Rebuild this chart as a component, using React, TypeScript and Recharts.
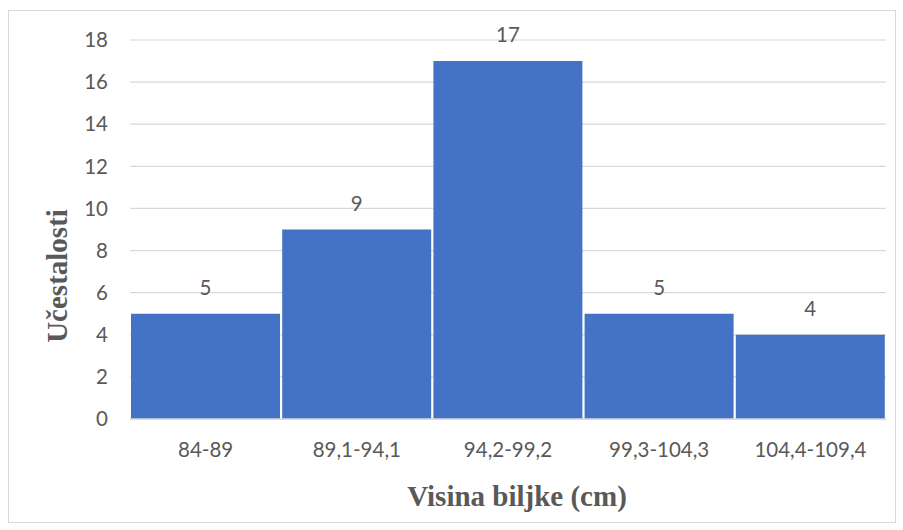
import React from 'react';
import { BarChart, Bar, XAxis, YAxis, CartesianGrid, LabelList, Label } from 'recharts';

const categories = ['84-89', '89,1-94,1', '94,2-99,2', '99,3-104,3', '104,4-109,4'];
const frequencies = [5, 9, 17, 5, 4];
const yTicks = [0, 2, 4, 6, 8, 10, 12, 14, 16, 18];

const data = categories.map((range, i) => ({ range, count: frequencies[i] }));

const tickFont = { fill: '#595959', fontSize: 20.5, fontFamily: 'Lato, sans-serif' };
const titleFont = { fill: '#595959', fontSize: 29, fontWeight: 'bold', fontFamily: '"Liberation Serif", serif' };

export default function App() {
  return (
    <div style={{ position: 'absolute', left: 0, top: 0, width: 903, height: 530, background: '#fff' }}>
      <div
        style={{
          position: 'absolute',
          left: 8,
          top: 10,
          width: 886,
          height: 511,
          border: '1px solid #d9d9d9',
        }}
      />
      <BarChart
        width={903}
        height={530}
        data={data}
        margin={{ top: 40, right: 17, left: 70, bottom: 81 }}
        barCategoryGap={1}
      >
        <CartesianGrid vertical={false} stroke="#d9d9d9" strokeWidth={1.2} />
        <XAxis
          dataKey="range"
          height={30}
          tickLine={false}
          tickSize={0}
          tickMargin={23}
          axisLine={{ stroke: '#d9d9d9', strokeWidth: 1.3 }}
          tick={tickFont}
        >
          <Label
            content={() => (
              <text x={517} y={506} textAnchor="middle" style={titleFont}>
                Visina biljke (cm)
              </text>
            )}
          />
        </XAxis>
        <YAxis
          width={60}
          domain={[0, 18]}
          ticks={yTicks}
          tickLine={false}
          tickSize={0}
          tickMargin={22}
          axisLine={false}
          tick={tickFont}
        >
          <Label
            content={() => (
              <text
                x={67}
                y={276}
                textAnchor="middle"
                transform="rotate(-90 67 276)"
                style={titleFont}
              >
                Učestalosti
              </text>
            )}
          />
        </YAxis>
        <Bar dataKey="count" fill="#4472c4" isAnimationActive={false}>
          <LabelList dataKey="count" position="top" offset={19} style={tickFont} fill="#404040" />
        </Bar>
      </BarChart>
    </div>
  );
}
